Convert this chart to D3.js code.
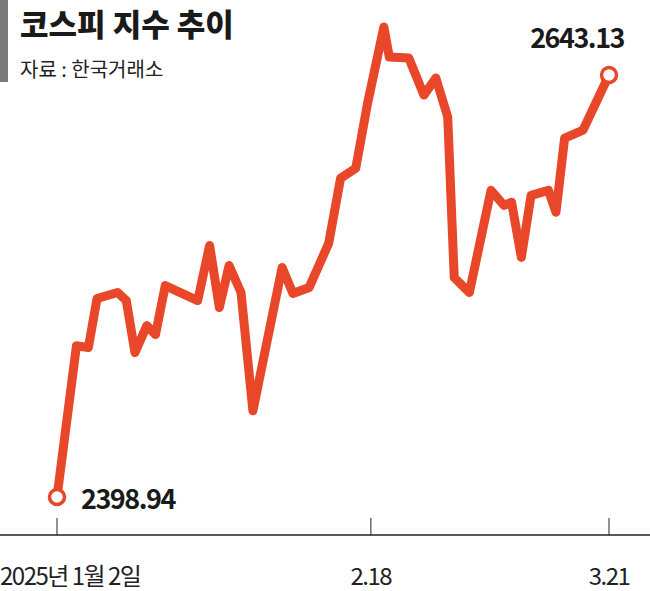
<!DOCTYPE html>
<html>
<head>
<meta charset="utf-8">
<script src="https://cdn.jsdelivr.net/npm/d3@7"></script>
<style>
  body { margin: 0; background: #fff; }
  svg { display: block; font-family: "Noto Sans CJK KR", "Noto Sans", sans-serif; }
</style>
</head>
<body>
<svg id="chart" width="650" height="591"></svg>
<script>
// trading-day position (0 = Jan 2) and KOSPI close
const days = [0, 1.8, 2.9, 3.7, 5.6, 6.4, 7.2, 8.3, 9.1, 10.0, 13.0, 14.1, 15.0, 15.9, 17.0, 18.1,
  20.8, 21.8, 23.3, 25.1, 26.2, 27.6, 28.7, 30.2, 30.7, 32.5, 33.9, 35.0, 36.1, 36.7, 38.1,
  40.1, 41.3, 42.0, 42.9, 43.8, 45.4, 46.1, 46.9, 48.6, 51];
const values = [2398.94, 2486.5, 2485.4, 2513.8, 2517.3, 2512.6, 2482.5, 2498.1, 2492.9, 2521.3,
  2512.6, 2544.5, 2508.6, 2532.9, 2517.3, 2448.8, 2531.8, 2516.7, 2520.2, 2545.7, 2583.4,
  2589.2, 2626.9, 2670.9, 2653.6, 2653.0, 2631.5, 2641.4, 2618.8, 2525.9, 2517.3, 2576.4,
  2567.7, 2569.5, 2537.6, 2573.5, 2576.4, 2563.7, 2606.6, 2611.2, 2643.13];
const tickDays = [0, 29, 51];
const tickLabels = ["2025년 1월 2일", "2.18", "3.21"];

const data = days.map((d, i) => ({ day: d, value: values[i] }));
const svg = d3.select("#chart");
const red = "#e8472a";

// title block
svg.append("rect").attr("x", 0).attr("y", 0).attr("width", 8).attr("height", 82).attr("fill", "#7a7a7a");
svg.append("text").attr("x", 20).attr("y", 36)
  .attr("font-size", 31).attr("font-weight", 900).attr("fill", "#1a1a1a")
  .text("코스피 지수 추이");
svg.append("text").attr("x", 20).attr("y", 77)
  .attr("font-size", 20).attr("fill", "#222")
  .text("자료 : 한국거래소");

// scales
const x = d3.scaleLinear().domain([0, 51]).range([57, 609]);
const y = d3.scaleLinear().domain([2398.94, 2643.13]).range([497, 75]);

// axis
const axisY = 535;
svg.append("line").attr("x1", 0).attr("x2", 650).attr("y1", axisY).attr("y2", axisY)
  .attr("stroke", "#222").attr("stroke-width", 1.5);
const ticks = svg.append("g");
tickDays.forEach((d, i) => {
  ticks.append("line").attr("x1", x(d)).attr("x2", x(d)).attr("y1", axisY - 17).attr("y2", axisY)
    .attr("stroke", "#222").attr("stroke-width", 1);
  ticks.append("text")
    .attr("x", i === 0 ? 0 : x(d))
    .attr("y", 585)
    .attr("text-anchor", i === 0 ? "start" : "middle")
    .attr("font-size", 24).attr("letter-spacing", -1.5).attr("fill", "#222")
    .text(tickLabels[i]);
});

// line
const line = d3.line().x(d => x(d.day)).y(d => y(d.value));
svg.append("path").datum(data)
  .attr("fill", "none").attr("stroke", red).attr("stroke-width", 9)
  .attr("stroke-linejoin", "round").attr("stroke-linecap", "round")
  .attr("d", line);

// end points
[data[0], data[data.length - 1]].forEach(d => {
  svg.append("circle").attr("cx", x(d.day)).attr("cy", y(d.value)).attr("r", 7.5)
    .attr("fill", "#fff").attr("stroke", red).attr("stroke-width", 3.5);
});

svg.append("text").attr("x", x(data[0].day) + 24).attr("y", y(data[0].value) + 12)
  .attr("font-size", 27).attr("font-weight", 700).attr("letter-spacing", -1.5).attr("fill", "#1a1a1a")
  .text(d3.format(".2f")(values[0]));
svg.append("text").attr("x", 624).attr("y", y(values[values.length - 1]) - 27)
  .attr("text-anchor", "end")
  .attr("font-size", 27).attr("font-weight", 700).attr("letter-spacing", -1.5).attr("fill", "#1a1a1a")
  .text(d3.format(".2f")(values[values.length - 1]));
</script>
</body>
</html>
